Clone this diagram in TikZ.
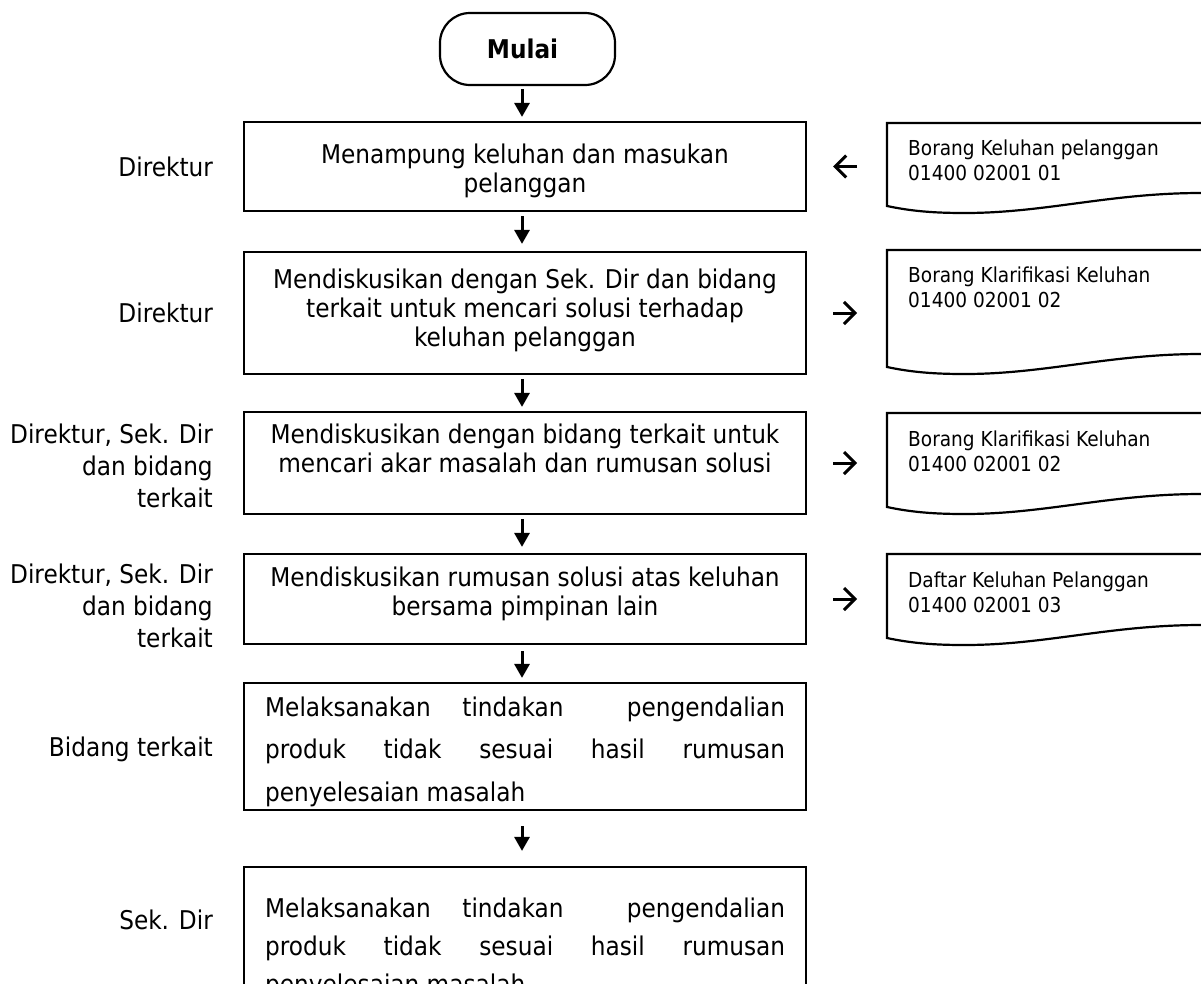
\documentclass[tikz,border=0pt]{standalone}
\usepackage{fontspec}
\setmainfont{DejaVu Sans Condensed}
\usetikzlibrary{arrows.meta}
\begin{document}
\begin{tikzpicture}[x=1pt,y=-1pt,
  box/.style={draw,line width=2.2pt,minimum width=562pt,inner sep=0pt},
  startbox/.style={draw,line width=2.2pt,rounded corners=30pt,minimum width=175pt,minimum height=72pt,inner sep=0pt,font=\fontsize{25.8}{29}\selectfont\bfseries},
  txt/.style={inner sep=0pt,font=\fontsize{25.8}{29}\selectfont,align=center,anchor=base},
  lbl/.style={inner sep=0pt,font=\fontsize{25.8}{32}\selectfont,align=right,anchor=base east},
  jtxt/.style={inner sep=0pt,align=left,anchor=base west},
  doctxt/.style={inner sep=0pt,font=\fontsize{20.6}{25}\selectfont,align=left,anchor=base west},
  docline/.style={line width=2.2pt},
  varr/.style={line width=3pt,-{Triangle[width=15pt,length=14pt]}},
  sarr/.style={line width=3pt,-{Straight Barb[length=11pt,width=22pt,line width=3pt]}}]
\useasboundingbox (0,0) rectangle (1201,983);
\clip (0,0) rectangle (1201,983);
\coordinate (ax) at (522,0);

% start
\node[startbox] (mulai) at (527.5,49) {\hspace*{-10pt}Mulai};

% boxes
\node[box,minimum height=89pt] (b1) at (525,166.5) {};
\node[box,minimum height=122pt] (b2) at (525,313) {};
\node[box,minimum height=102pt] (b3) at (525,463) {};
\node[box,minimum height=90pt] (b4) at (525,599) {};
\node[box,minimum height=127pt] (b5) at (525,746.5) {};
\node[box,minimum height=133pt] (b6) at (525,933.5) {};

% box texts (anchor = baseline of last line)
\node[txt] (t1) at (525,192) {Menampung keluhan dan masukan\\pelanggan};
\node[txt] (t2) at (525,346) {Mendiskusikan dengan Sek. Dir dan bidang\\terkait untuk mencari solusi terhadap\\keluhan pelanggan};
\node[txt] (t3) at (525,472) {Mendiskusikan dengan bidang terkait untuk\\mencari akar masalah dan rumusan solusi};
\node[txt] (t4) at (525,615) {Mendiskusikan rumusan solusi atas keluhan\\bersama pimpinan lain};
\begin{scope}
  \clip (b5.north west) rectangle ([yshift=4pt]b5.south east);
  \node[jtxt,font=\fontsize{25.8}{42.5}\selectfont] (t5) at (265,801) {\hbox to 520pt{Melaksanakan\hfill tindakan\hfill\hfill pengendalian}\\\makebox[520pt][s]{produk tidak sesuai hasil rumusan}\\penyelesaian masalah};
\end{scope}
\begin{scope}
  \clip (b6.north west) rectangle (b6.south east);
  \node[jtxt,font=\fontsize{25.8}{38}\selectfont] (t6) at (265,993) {\hbox to 520pt{Melaksanakan\hfill tindakan\hfill\hfill pengendalian}\\\makebox[520pt][s]{produk tidak sesuai hasil rumusan}\\penyelesaian masalah};
\end{scope}

% labels
\node[lbl] (l1) at (213,176) {Direktur};
\node[lbl] (l2) at (213,322) {Direktur};
\node[lbl] (l3) at (213,507) {Direktur, Sek. Dir\\dan bidang\\terkait};
\node[lbl] (l4) at (213,647) {Direktur, Sek. Dir\\dan bidang\\terkait};
\node[lbl] (l5) at (213,756) {Bidang terkait};
\node[lbl] (l6) at (213,929) {Sek. Dir};

% vertical arrows
\draw[varr] ([yshift=-3pt]mulai.south -| ax) -- ([yshift=4pt]b1.north -| ax);
\draw[varr] ([yshift=-4pt]b1.south -| ax) -- ([yshift=7pt]b2.north -| ax);
\draw[varr] ([yshift=-4pt]b2.south -| ax) -- ([yshift=4pt]b3.north -| ax);
\draw[varr] ([yshift=-4pt]b3.south -| ax) -- ([yshift=6pt]b4.north -| ax);
\draw[varr] ([yshift=-6pt]b4.south -| ax) -- ([yshift=4pt]b5.north -| ax);
\draw[varr] ([yshift=-15pt]b5.south -| ax) -- ([yshift=15pt]b6.north -| ax);

% documents
\draw[docline] (1201,123) -- (887,123) -- (887,206) .. controls (915,212) and (940,213) .. (965,213) .. controls (1045,213) and (1110,193) .. (1201,193);
\draw[docline] (1201,250) -- (887,250) -- (887,367) .. controls (915,373) and (940,374) .. (965,374) .. controls (1045,374) and (1110,354) .. (1201,354);
\draw[docline] (1201,413) -- (887,413) -- (887,507) .. controls (915,513) and (940,514) .. (965,514) .. controls (1045,514) and (1110,494) .. (1201,494);
\draw[docline] (1201,554) -- (887,554) -- (887,638) .. controls (915,644) and (940,645) .. (965,645) .. controls (1045,645) and (1110,625) .. (1201,625);
\node[doctxt] (d1) at (908,180) {Borang Keluhan pelanggan\\01400 02001 01};
\node[doctxt] (d2) at (908,307) {Borang Klarifikasi Keluhan\\01400 02001 02};
\node[doctxt] (d3) at (908,471) {Borang Klarifikasi Keluhan\\01400 02001 02};
\node[doctxt] (d4) at (908,612) {Daftar Keluhan Pelanggan\\01400 02001 03};

% side arrows
\draw[sarr] ([xshift=50pt]b1.east) -- ([xshift=26pt]b1.east);
\draw[sarr] ([xshift=26pt]b2.east) -- ([xshift=50pt]b2.east);
\draw[sarr] ([xshift=26pt]b3.east) -- ([xshift=50pt]b3.east);
\draw[sarr] ([xshift=26pt]b4.east) -- ([xshift=50pt]b4.east);
\end{tikzpicture}
\end{document}
